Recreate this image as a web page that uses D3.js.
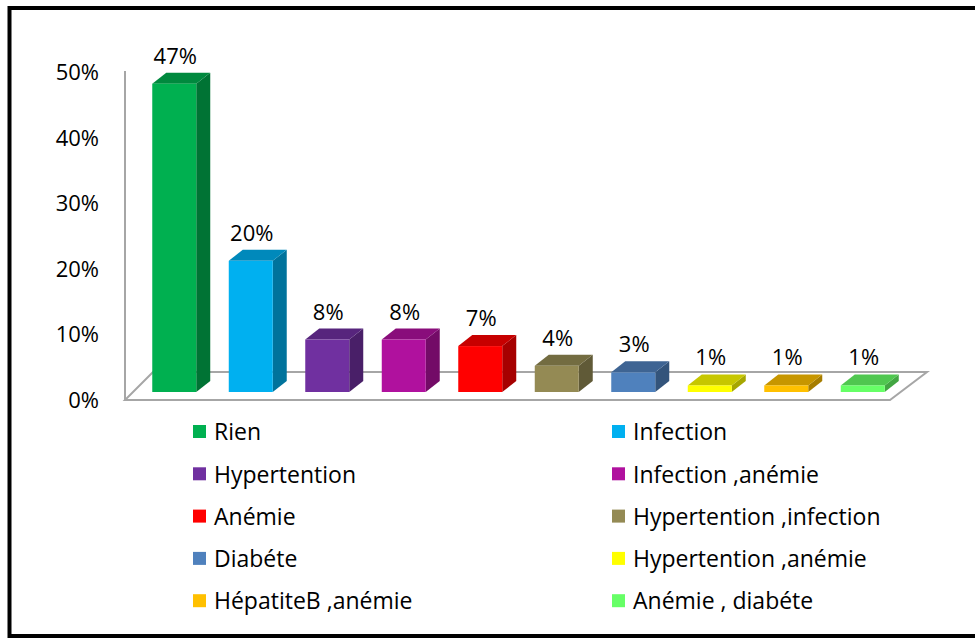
<!DOCTYPE html>
<html>
<head>
<meta charset="utf-8">
<script src="https://cdn.jsdelivr.net/npm/d3@7"></script>
<style>
	body { margin: 0; background: #fff; }
	text { font-family: "Open Sans", Lato, sans-serif; fill: #000; }
</style>
</head>
<body>
<svg id="chart" width="975" height="639"></svg>
<script>
var categories = ["Rien", "Infection", "Hypertention", "Infection ,anémie", "Anémie",
	"Hypertention ,infection", "Diabéte", "Hypertention ,anémie", "HépatiteB ,anémie", "Anémie , diabéte"];
var values = [47, 20, 8, 8, 7, 4, 3, 1, 1, 1];
var colors = ["#00B050", "#00B0F0", "#7030A0", "#B0119E", "#FF0000",
	"#948A54", "#4F81BD", "#FFFF00", "#FFC000", "#66FF66"];
var yTicks = [0, 10, 20, 30, 40, 50];

var svg = d3.select("#chart");

// outer frame
svg.append("rect")
	.attr("x", 9.5).attr("y", 8)
	.attr("width", 1000).attr("height", 628)
	.attr("fill", "none")
	.attr("stroke", "#000")
	.attr("stroke-width", 4);

var y = d3.scaleLinear().domain([0, 50]).range([400, 72]);
var x = d3.scaleBand().domain(categories).range([136, 901])
	.paddingInner(0.425).paddingOuter(0.2125);

var depthFront = 8,   // bars sit a bit behind the front edge of the floor
	barDx = 14, barDy = 11,
	floorDepth = 28;

// back wall line and floor
var floorL = 125, floorR = 890;
svg.append("line")
	.attr("x1", floorL).attr("x2", floorL)
	.attr("y1", y(50) - 1).attr("y2", y(0))
	.attr("stroke", "#A6A6A6").attr("stroke-width", 2);

svg.append("path")
	.attr("d", "M" + floorL + "," + y(0) +
		"L" + floorR + "," + y(0) +
		"L" + (floorR + 37) + "," + (y(0) - floorDepth) +
		"L" + (floorL + floorDepth) + "," + (y(0) - floorDepth) + "Z")
	.attr("fill", "none")
	.attr("stroke", "#A6A6A6")
	.attr("stroke-width", 2);

// y tick labels
svg.selectAll(".tick-label")
	.data(yTicks)
	.enter().append("text")
	.attr("class", "tick-label")
	.attr("x", 99)
	.attr("y", function (d) { return y(d); })
	.attr("dy", "0.36em")
	.attr("text-anchor", "end")
	.style("font-size", "22px")
	.text(function (d) { return d + "%"; });

// 3D bars
var bars = svg.selectAll(".bar")
	.data(categories)
	.enter().append("g")
	.attr("class", "bar");

bars.each(function (c, i) {
	var g = d3.select(this);
	var x0 = x(c), w = x.bandwidth();
	var base = y(0) - depthFront;
	var top = y(values[i]) - depthFront;
	var col = d3.rgb(colors[i]);

	// side
	g.append("path")
		.attr("d", "M" + (x0 + w) + "," + base +
			"L" + (x0 + w + barDx) + "," + (base - barDy) +
			"L" + (x0 + w + barDx) + "," + (top - barDy) +
			"L" + (x0 + w) + "," + top + "Z")
		.attr("fill", col.darker(1.2));
	// top
	g.append("path")
		.attr("d", "M" + x0 + "," + top +
			"L" + (x0 + barDx) + "," + (top - barDy) +
			"L" + (x0 + w + barDx) + "," + (top - barDy) +
			"L" + (x0 + w) + "," + top + "Z")
		.attr("fill", col.darker(0.7));
	// front
	g.append("rect")
		.attr("x", x0).attr("y", top)
		.attr("width", w).attr("height", base - top)
		.attr("fill", col);

	g.append("text")
		.attr("x", x0 + w / 2 + 1)
		.attr("y", top - 20)
		.attr("text-anchor", "middle")
		.style("font-size", "22px")
		.text(values[i] + "%");
});

// legend
var legendX = [193, 612], legendY0 = 432, legendStep = 42.3;
var legend = svg.selectAll(".legend")
	.data(categories)
	.enter().append("g")
	.attr("class", "legend")
	.attr("transform", function (d, i) {
		return "translate(" + legendX[i % 2] + "," + (legendY0 + Math.floor(i / 2) * legendStep) + ")";
	});

legend.append("rect")
	.attr("x", 0).attr("y", -7)
	.attr("width", 13).attr("height", 13)
	.attr("fill", function (d, i) { return colors[i]; });

legend.append("text")
	.attr("x", 21)
	.attr("dy", "0.36em")
	.style("font-size", "23px")
	.text(function (d) { return d; });
</script>
</body>
</html>
